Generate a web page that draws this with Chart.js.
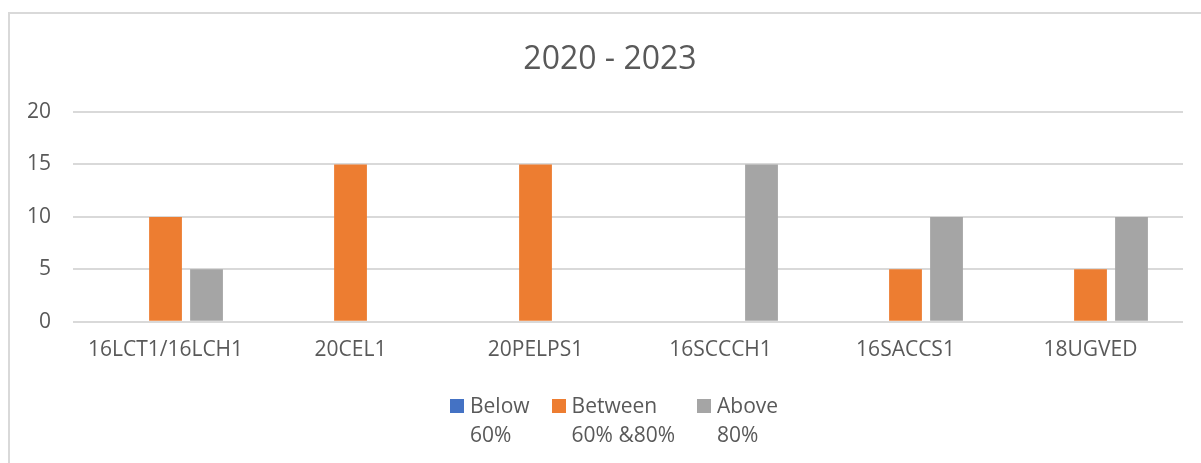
<!DOCTYPE html>
<html lang="en">
<head>
    <meta charset="UTF-8">
    <title>2020 - 2023</title>
    <style>
        html, body { margin: 0; padding: 0; background: #fff; }
        #wrap { position: relative; width: 1201px; height: 463px; overflow: hidden; font-family: "Open Sans", sans-serif; color: #595959; }
        #frame { position: absolute; left: 8px; top: 12px; width: 1300px; height: 600px;
                 border-left: 2px solid #d9d9d9; border-top: 2px solid #d9d9d9; }
        #chartBox { position: absolute; left: 0; top: 0; width: 1201px; height: 463px; }
        #title { position: absolute; left: 410px; width: 400px; top: 35px; text-align: center; font-size: 32px; }
        #legend { position: absolute; left: 450px; top: 391px; display: flex; font-size: 21px; line-height: 29px; }
        .item { display: flex; align-items: flex-start; margin-right: 22px; }
        .box { width: 14px; height: 14px; margin: 8px 6px 0 0; }
    </style>
</head>
<body>
<div id="wrap">
    <div id="frame"></div>
    <div id="chartBox"><canvas id="chart"></canvas></div>
    <div id="title"></div>
    <div id="legend"></div>
</div>

<script src="https://cdn.jsdelivr.net/npm/chart.js"></script>
<script>
// data
const chartTitle = '2020 - 2023';
const categories = ['16LCT1/16LCH1', '20CEL1', '20PELPS1', '16SCCCH1', '16SACCS1', '18UGVED'];
const seriesNames = ['Below 60%', 'Between 60% &80%', 'Above 80%'];
const legendLines = [['Below', '60%'], ['Between', '60% &80%'], ['Above', '80%']];
const seriesColors = ['#4472C4', '#ED7D31', '#A5A5A5'];
const below = [0, 0, 0, 0, 0, 0];
const between = [10, 15, 15, 0, 5, 5];
const above = [5, 0, 0, 15, 10, 10];
const yMax = 20;
const yStep = 5;

const textColor = '#595959';
const gridColor = '#d9d9d9';

const values = [below, between, above];

const chart = new Chart(document.getElementById('chart'), {
    type: 'bar',
    data: {
        labels: categories,
        datasets: seriesNames.map((name, i) => ({
            label: name,
            data: values[i],
            backgroundColor: seriesColors[i],
            borderWidth: 0,
            categoryPercentage: 0.665,
            barPercentage: 0.8
        }))
    },
    options: {
        responsive: true,
        maintainAspectRatio: false,
        animation: false,
        layout: {
            padding: {top: 112, left: 5, right: 18, bottom: 84}
        },
        plugins: {
            legend: {display: false},
            tooltip: {enabled: false},
            title: {display: false}
        },
        scales: {
            x: {
                grid: {display: false, drawTicks: false},
                border: {display: false},
                ticks: {
                    color: textColor,
                    font: {family: 'Open Sans', size: 21},
                    padding: 16,
                    maxRotation: 0,
                    autoSkip: false
                }
            },
            y: {
                min: 0,
                max: yMax,
                grid: {color: gridColor, lineWidth: 2, drawTicks: false},
                border: {display: false},
                ticks: {
                    stepSize: yStep,
                    color: textColor,
                    font: {family: 'Open Sans', size: 21},
                    padding: 22
                }
            }
        }
    }
});

// title and legend written as html so they sit where the original has them
document.getElementById('title').textContent = chartTitle;

const legend = document.getElementById('legend');
chart.data.datasets.forEach((ds, i) => {
    const item = document.createElement('div');
    item.className = 'item';
    const box = document.createElement('span');
    box.className = 'box';
    box.style.background = ds.backgroundColor;
    const txt = document.createElement('div');
    txt.innerHTML = legendLines[i].join('<br>');
    item.appendChild(box);
    item.appendChild(txt);
    legend.appendChild(item);
});
</script>
</body>
</html>
